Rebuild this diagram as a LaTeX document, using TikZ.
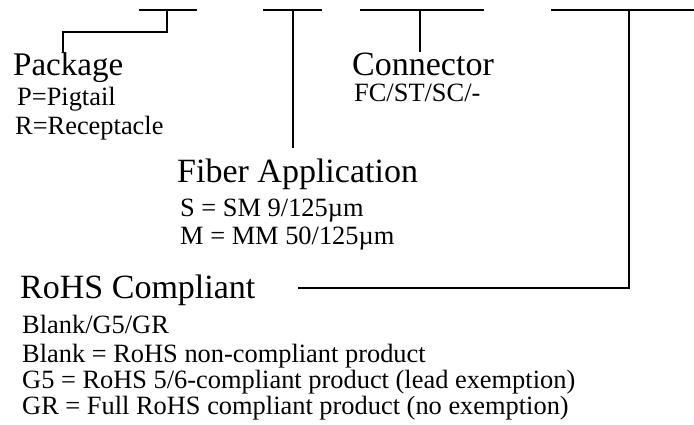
\documentclass[tikz,border=0pt]{standalone}
\usepackage{fontspec}
\setmainfont{Liberation Serif}
\begin{document}
\begin{tikzpicture}[x=1pt,y=-1pt,
  bar/.style={line width=2.8pt,line cap=butt,line join=miter},
  head/.style={anchor=base west,inner sep=0pt,font=\fontsize{34}{34}\selectfont},
  sub/.style={anchor=base west,inner sep=0pt,font=\fontsize{26.4}{26.4}\selectfont,align=left}]
\useasboundingbox (0,0) rectangle (694,425);
% bars
\coordinate (b1l) at (139,10); \coordinate (b1r) at (197,10);
\coordinate (b2l) at (263,10); \coordinate (b2r) at (322,10);
\coordinate (b3l) at (360,10); \coordinate (b3r) at (484,10);
\coordinate (b4l) at (551,10); \coordinate (b4r) at (694,10);
\draw[bar] (b1l) -- (b1r);
\draw[bar] (b2l) -- (b2r);
\draw[bar] (b3l) -- (b3r);
\draw[bar] (b4l) -- (b4r);
% labels
\node[head,font=\fontsize{33}{33}\selectfont] (pkg) at (13,76) {Package};
\node[sub] (pkgp) at (17,106) {P=Pigtail};
\node[sub] (pkgr) at (15,135) {R=Receptacle};
\node[head] (con) at (352,76) {Connector};
\node[sub] (conv) at (354,102) {FC/ST/SC/-};
\node[head] (fib) at (177,183) {Fiber Application};
\node[sub] (fibs) at (180,217) {S = SM 9/125µm};
\node[sub] (fibm) at (180,244) {M = MM 50/125µm};
\node[head] (rohs) at (20,298) {RoHS Compliant};
\node[sub] (rohsv) at (22,333) {Blank/G5/GR};
\node[sub] (rohs1) at (22,362) {Blank = RoHS non-compliant product};
\node[sub] (rohs2) at (22,388) {G5 = RoHS 5/6-compliant product (lead exemption)};
\node[sub] (rohs3) at (22,414) {GR = Full RoHS compliant product (no exemption)};
% connectors
\coordinate (k1) at (167,32); \coordinate (k2) at (63,32);
\draw[bar] (167,10) -- (k1) -- (k2) -- (k2 |- pkg.north);
\draw[bar] (293,10) -- (293,148);
\draw[bar] (420,10) -- (420,52);
\coordinate (k4) at (629,288);
\draw[bar] (629,10) -- (k4) -- (298,288);
\end{tikzpicture}
\end{document}
